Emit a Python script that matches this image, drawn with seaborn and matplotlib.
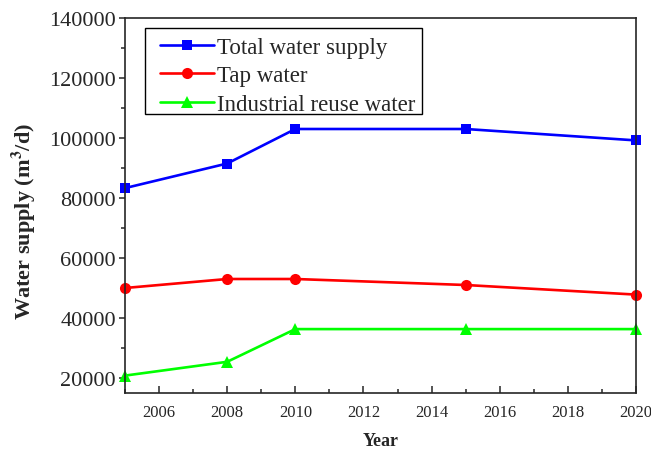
import matplotlib
matplotlib.use("Agg")
import matplotlib.pyplot as plt
import seaborn as sns
import pandas as pd
from matplotlib.ticker import MultipleLocator
from matplotlib.patches import Rectangle

years = [2005, 2008, 2010, 2015, 2020]
total_supply = [83300, 91500, 103000, 103000, 99200]
tap_water = [50000, 53000, 53000, 51000, 47800]
industrial_reuse = [20800, 25400, 36300, 36300, 36300]
series_names = ["Total water supply", "Tap water", "Industrial reuse water"]

sns.set_style("ticks")
plt.rcParams['font.family'] = ['Liberation Serif', 'DejaVu Serif']
plt.rcParams['mathtext.fontset'] = 'stix'

df = pd.DataFrame({
    "Year": years * 3,
    "Value": total_supply + tap_water + industrial_reuse,
    "Series": [series_names[0]] * 5 + [series_names[1]] * 5 + [series_names[2]] * 5,
})

W, H = 651, 452
fig = plt.figure(figsize=(W / 100, H / 100), dpi=100)
L, R, T, B = 125, 636, 19, 394
ax = fig.add_axes([L / W, 1 - B / H, (R - L) / W, (B - T) / H])

def ax_x(px):
    return (px - L) / (R - L)

def ax_y(py):
    return (B - py) / (B - T)

palette = {series_names[0]: "#0000FF", series_names[1]: "#FF0000", series_names[2]: "#00FF00"}
markers = {series_names[0]: "s", series_names[1]: "o", series_names[2]: "^"}
sns.lineplot(data=df, x="Year", y="Value", hue="Series", style="Series",
             palette=palette, markers=markers, dashes=False, markersize=8,
             linewidth=1.9, markeredgewidth=0, ax=ax, clip_on=False)

ax.set_xlim(2005, 2020)
ax.set_ylim(15000, 140000)
ax.xaxis.set_major_locator(MultipleLocator(2))
ax.xaxis.set_minor_locator(MultipleLocator(1))
ax.yaxis.set_minor_locator(MultipleLocator(10000))
ax.set_yticks(range(20000, 140001, 20000))
ax.tick_params(axis='x', which='major', direction='in', length=5, width=1.1, labelsize=12, pad=8)
ax.tick_params(axis='x', which='minor', direction='in', length=3, width=1.1)
ax.tick_params(axis='y', which='major', direction='out', length=4.5, width=1.1, labelsize=16, pad=2)
ax.tick_params(axis='y', which='minor', direction='out', length=3, width=1.1)
for s in ax.spines.values():
    s.set_linewidth(1.2)
    s.set_visible(True)

ax.set_xlabel("Year", fontsize=13, fontweight='bold')
ax.xaxis.set_label_coords(0.5, ax_y(433), transform=ax.transAxes)
ax.set_ylabel("Water supply (m$^\\mathbf{3}$/d)", fontsize=16, fontweight='bold')
ax.yaxis.set_label_coords(ax_x(38), ax_y(222), transform=ax.transAxes)

leg = ax.legend(loc='upper left', bbox_to_anchor=(ax_x(160), ax_y(38)),
                borderaxespad=0, borderpad=0, fontsize=16.5, frameon=False,
                handlelength=2.35, labelspacing=0.32, handletextpad=0.12)
ax.add_patch(Rectangle((ax_x(145), ax_y(115)), ax_x(422) - ax_x(145), ax_y(29) - ax_y(115),
                       transform=ax.transAxes, fill=True, facecolor='white',
                       edgecolor='black', linewidth=1.0, zorder=4))
leg.set_zorder(5)

for ln in list(ax.lines) + list(leg.get_lines()):
    if ln.get_marker() == 's':
        ln.set_markersize(7.2)
    elif ln.get_marker() == '^':
        ln.set_markersize(8.5)

fig.savefig("out.png", dpi=100)
